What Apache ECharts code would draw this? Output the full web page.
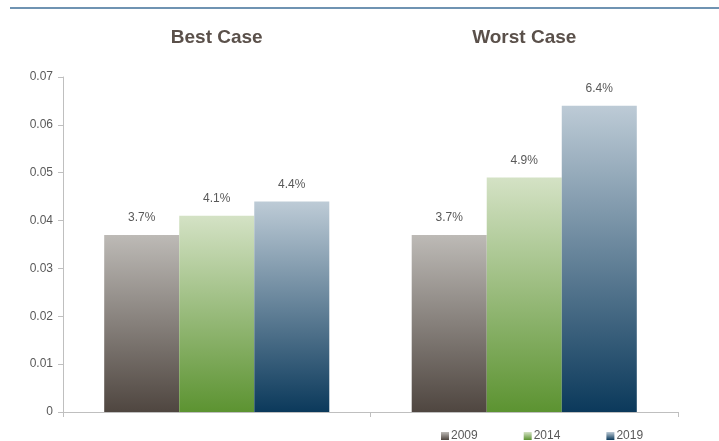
<!DOCTYPE html>
<html><head><meta charset="utf-8">
<script src="https://cdn.jsdelivr.net/npm/echarts@6/dist/echarts.min.js"></script>
<style>html,body{margin:0;padding:0;background:#fff}#c{width:719px;height:441px}</style>
</head><body><div id="c"></div>
<script>
var categories = ['Best Case', 'Worst Case'];
var seriesNames = ['2009', '2014', '2019'];
var values2009 = [0.037, 0.037];
var values2014 = [0.041, 0.049];
var values2019 = [0.044, 0.064];
var yTicks = [0, 0.01, 0.02, 0.03, 0.04, 0.05, 0.06, 0.07];

function grad(top, bottom) {
  return new echarts.graphic.LinearGradient(0, 0, 0, 1, [
    {offset: 0, color: top}, {offset: 1, color: bottom}
  ]);
}
var colors = [grad('#bdbab6', '#4f4640'), grad('#d4e2c5', '#5c9331'), grad('#bdcbd6', '#0b395b')];
var data = [values2009, values2014, values2019];

var chart = echarts.init(document.getElementById('c'));
chart.setOption({
  animation: false,
  textStyle: {fontFamily: 'Liberation Sans, Arial, sans-serif'},
  graphic: [{type: 'line', shape: {x1: 10, y1: 8, x2: 719, y2: 8}, style: {stroke: '#3f6f99', lineWidth: 1.5}}],
  grid: {left: 63, right: 41, top: 77, bottom: 29, containLabel: false},
  legend: {
    top: 430, left: 441, itemGap: 46, itemWidth: 8, itemHeight: 8, icon: 'rect', padding: 0,
    textStyle: {color: '#595959', fontSize: 12, padding: [0, 0, 0, -3]},
    data: seriesNames
  },
  xAxis: [{
    type: 'category', data: categories, position: 'bottom',
    axisLine: {lineStyle: {color: '#bfbfbf'}},
    axisTick: {show: true, length: 5, lineStyle: {color: '#bfbfbf'}},
    axisLabel: {show: false}
  }, {
    type: 'category', data: categories, position: 'top', offset: 22,
    axisLine: {show: false}, axisTick: {show: false},
    axisLabel: {color: '#5a504a', fontSize: 19, fontWeight: 'bold'}
  }],
  yAxis: {
    type: 'value', min: yTicks[0], max: yTicks[yTicks.length - 1], interval: 0.01,
    axisLine: {show: true, lineStyle: {color: '#bfbfbf'}},
    axisTick: {show: true, length: 5, lineStyle: {color: '#bfbfbf'}},
    splitLine: {show: false},
    axisLabel: {color: '#595959', fontSize: 12, margin: 10,
      formatter: function (v) { return String(+v.toFixed(2)); }}
  },
  series: seriesNames.map(function (n, i) {
    return {
      name: n, type: 'bar', data: data[i], barGap: '0%', barCategoryGap: '26.8%',
      itemStyle: {color: colors[i]},
      label: {show: true, position: 'top', distance: 11, color: '#595959', fontSize: 12,
        formatter: function (p) { return (p.value * 100).toFixed(1) + '%'; }}
    };
  })
});
</script></body></html>
